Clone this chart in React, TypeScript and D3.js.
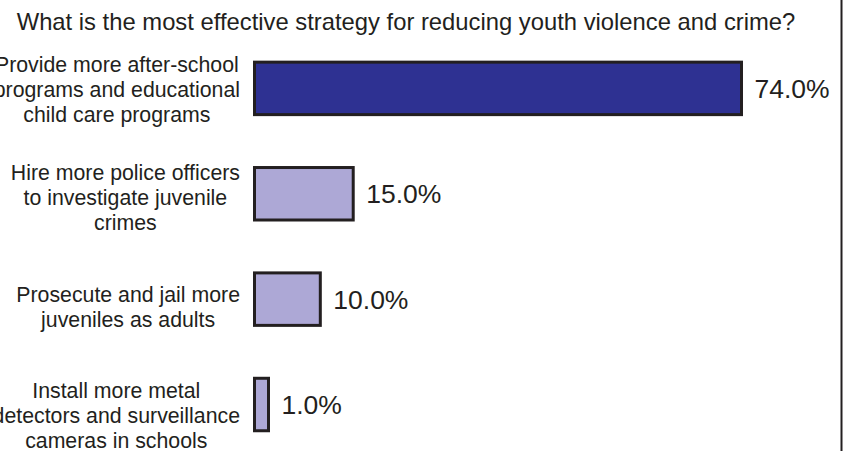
import React, { useEffect, useRef } from "react";
import * as d3 from "d3";

const title = "What is the most effective strategy for reducing youth violence and crime?";
const categories = [
  ["Provide more after-school", "programs and educational", "child care programs"],
  ["Hire more police officers", "to investigate juvenile", "crimes"],
  ["Prosecute and jail more", "juveniles as adults"],
  ["Install more metal", "detectors and surveillance", "cameras in schools"],
];
const values = [74.0, 15.0, 10.0, 1.0];
const fills = ["#2E3192", "#ADA8D6", "#ADA8D6", "#ADA8D6"];

const W = 846;
const H = 451;
const FONT = "'Liberation Sans', Arial, sans-serif";
const INK = "#231F20";

export default function App() {
  const ref = useRef<SVGSVGElement>(null);

  useEffect(() => {
    const svg = d3.select(ref.current);
    svg.selectAll("*").remove();

    const ids = categories.map((_, i) => String(i));
    const x = d3.scaleLinear().domain([0, 74]).range([254.5, 741.5]);
    const y = d3.scaleBand().domain(ids).range([62.15, 430.75]).paddingInner(0.502).paddingOuter(0);
    const yLabel = d3.scalePoint().domain(ids).range([96.7, 422.7]);

    svg.append("rect").attr("x", 0).attr("y", 0).attr("width", W).attr("height", H).attr("fill", "#fff");

    svg.append("line")
      .attr("x1", 841.5).attr("x2", 841.5).attr("y1", 0).attr("y2", H)
      .attr("stroke", INK).attr("stroke-width", 2);

    svg.append("text")
      .attr("x", 406).attr("y", 30)
      .attr("text-anchor", "middle")
      .attr("font-family", FONT).attr("font-size", 23.8).attr("fill", INK)
      .text(title);

    const g = svg.append("g");
    ids.forEach((id, i) => {
      const y0 = y(id)!;
      const bw = y.bandwidth();
      const cy = y0 + bw / 2;
      const w = Math.max(x(values[i]) - x(0), 14);
      g.append("rect")
        .attr("x", x(0)).attr("y", y0).attr("width", w).attr("height", bw)
        .attr("fill", fills[i]).attr("stroke", INK).attr("stroke-width", 3);

      g.append("text")
        .attr("x", x(0) + w + 13).attr("y", cy + 9.5)
        .attr("font-family", FONT).attr("font-size", 26.5).attr("fill", INK)
        .text(d3.format(".1f")(values[i]) + "%");

      const lines = categories[i];
      const lh = 25;
      const mid = yLabel(id)!;
      const t = g.append("text")
        .attr("font-family", FONT).attr("font-size", 21.3).attr("fill", INK)
        .attr("text-anchor", "middle");
      const spans = lines.map((ln, k) =>
        t.append("tspan")
          .attr("y", mid + (k - (lines.length - 1) / 2) * lh)
          .text(ln)
      );
      let maxW = 0;
      spans.forEach((s) => {
        const n = s.node() as SVGTSpanElement;
        maxW = Math.max(maxW, n.getComputedTextLength());
      });
      const cx = 240 - maxW / 2;
      spans.forEach((s) => s.attr("x", cx));
    });
  }, []);

  return (
    <svg ref={ref} width={W} height={H} style={{ display: "block", position: "absolute", left: 0, top: 0 }} />
  );
}
